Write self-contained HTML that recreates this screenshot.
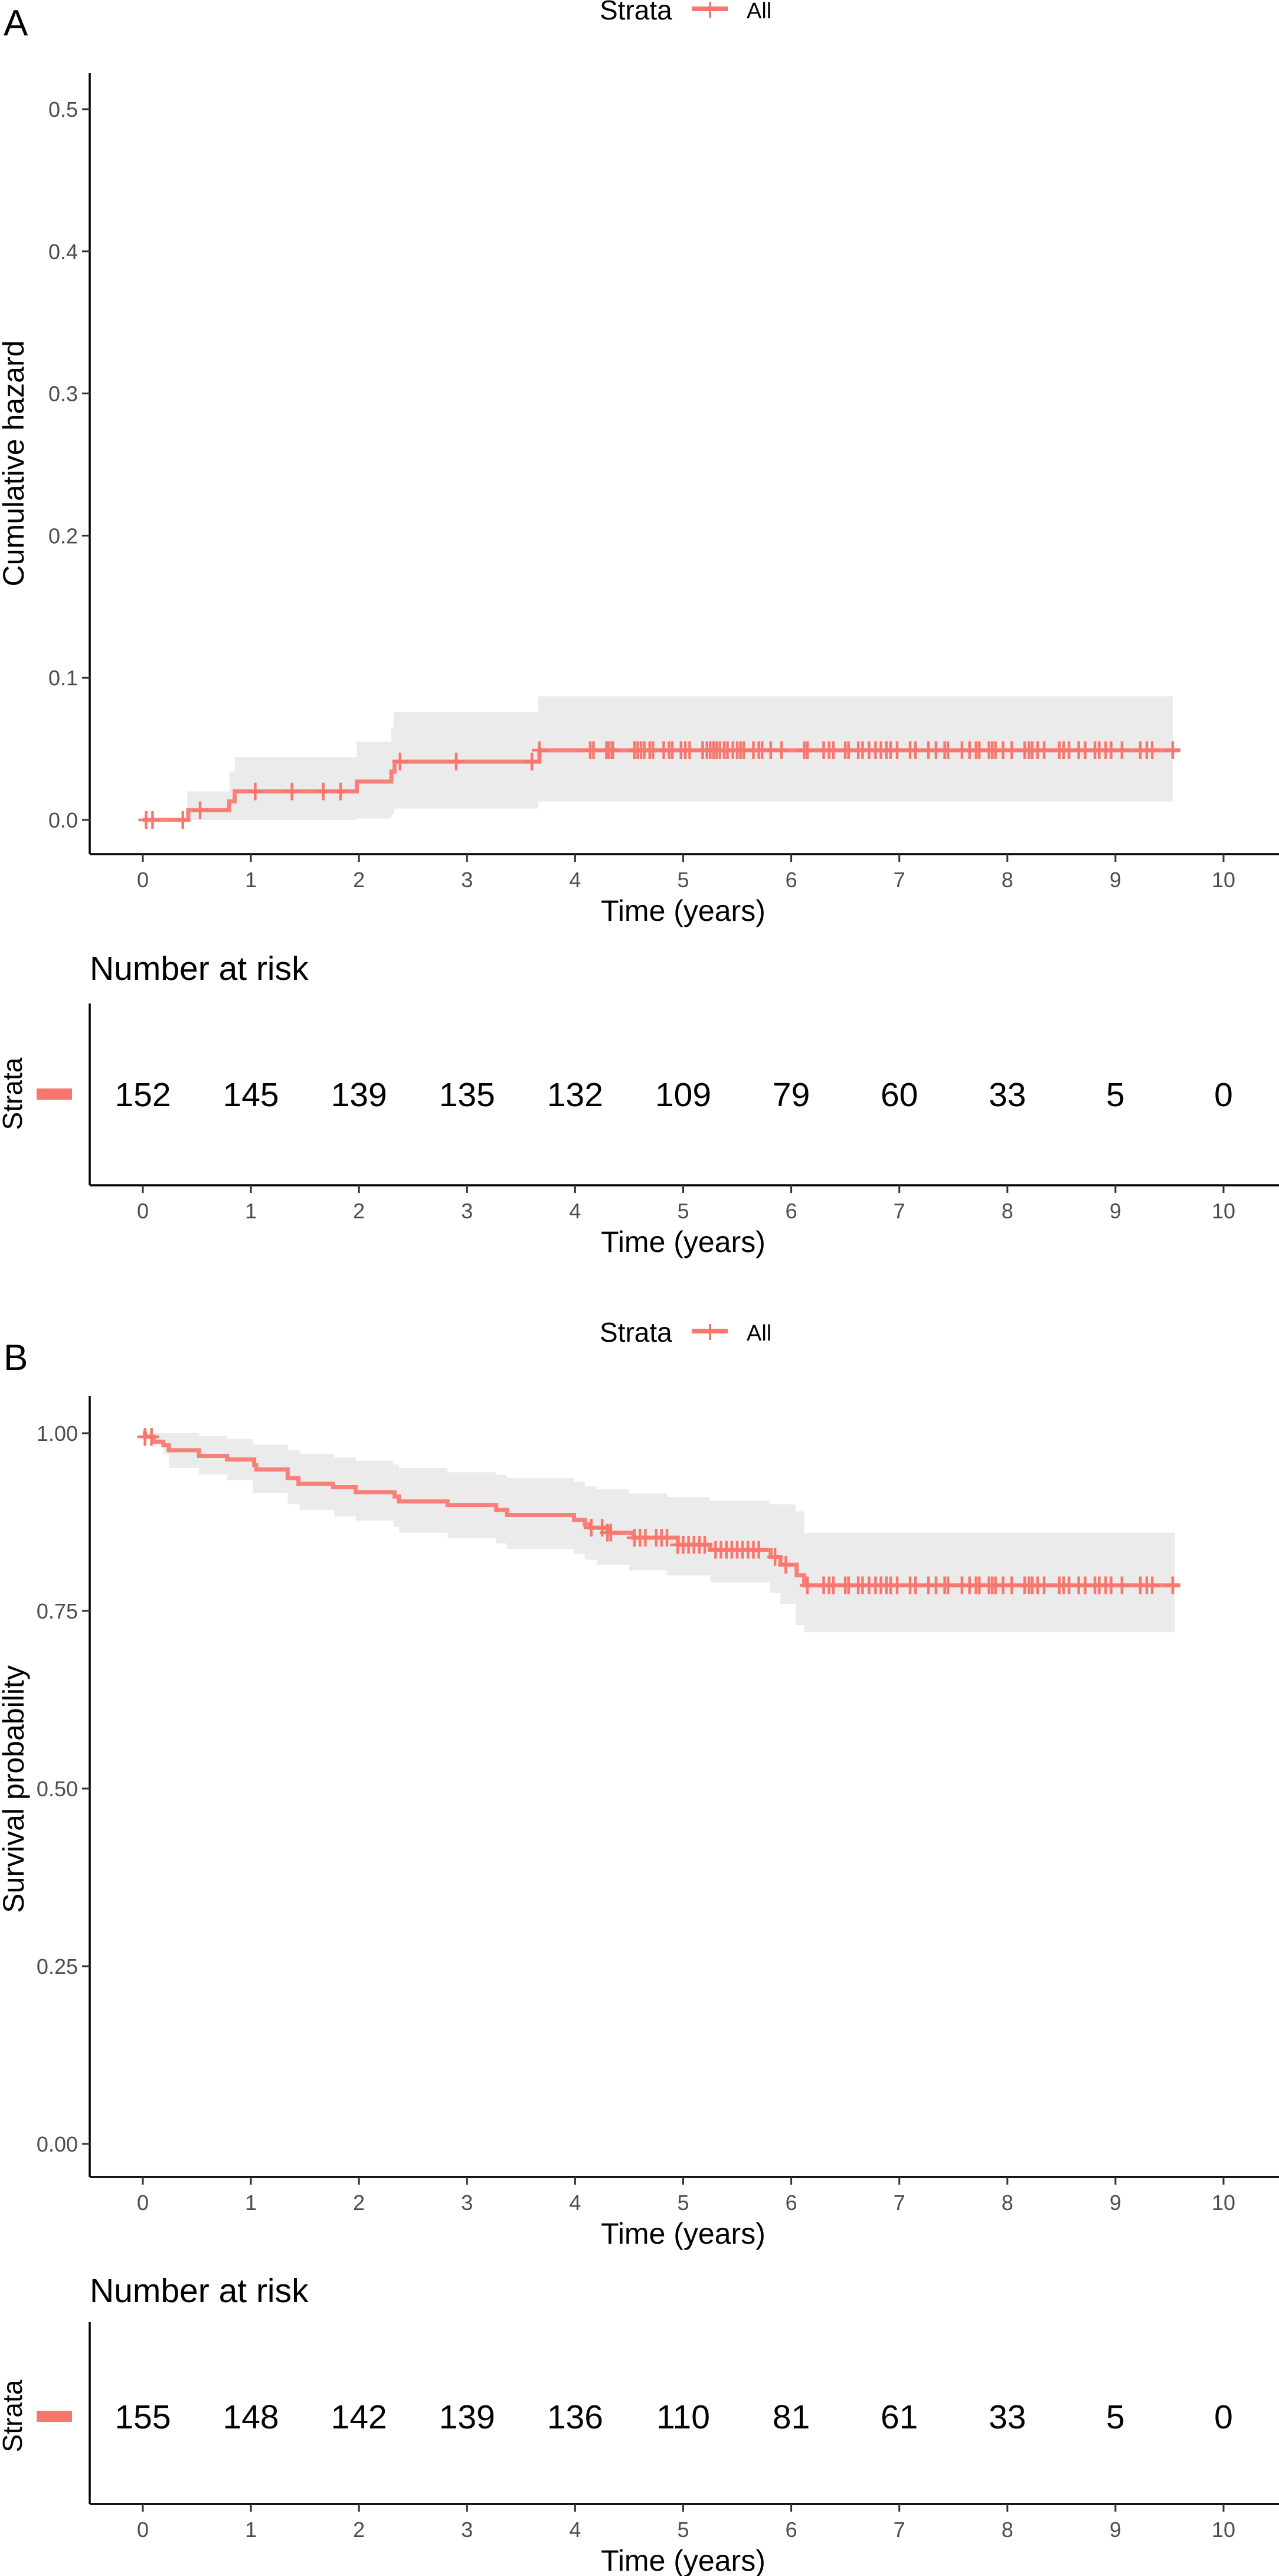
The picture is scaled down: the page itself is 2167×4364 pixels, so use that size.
<!DOCTYPE html>
<html><head><meta charset="utf-8">
<style>
html,body{margin:0;padding:0;background:#fff;}
svg{display:block;font-family:"Liberation Sans",sans-serif;}
</style></head>
<body>
<svg id="fig" width="2167" height="4364" viewBox="0 0 2167 4364" xmlns="http://www.w3.org/2000/svg"></svg>
<script>
// ---- data ----
const xTicks = [0,1,2,3,4,5,6,7,8,9,10];
// Panel A: cumulative hazard step function
const hazTimes = [0,0.42,0.80,0.85,1.98,2.30,2.33,3.67];
const hazVals  = [0,0.0068,0.013,0.020,0.027,0.034,0.041,0.049];
const hazEnd = 9.6;
const hazBandTimes = [0.41,0.80,0.85,1.98,2.30,2.32,3.66];
const hazUpper = [0.020,0.034,0.044,0.055,0.065,0.076,0.087];
const hazLower = [0,0,0,0.001,0.004,0.008,0.013];
const hazBandEnd = 9.53;
const hazYTicks = [0,0.1,0.2,0.3,0.4,0.5];
const hazYLabels = ["0.0","0.1","0.2","0.3","0.4","0.5"];
const lateCensor = [4.14,4.17,4.29,4.31,4.34,4.35,4.55,4.58,4.61,4.64,4.69,4.72,4.82,4.87,4.90,4.98,5.02,5.06,5.18,5.22,5.25,5.28,5.31,5.34,5.38,5.41,5.46,5.50,5.53,5.56,5.65,5.70,5.73,5.81,5.91,6.12,6.15,6.30,6.35,6.39,6.50,6.53,6.62,6.66,6.72,6.78,6.83,6.88,6.92,6.98,7.10,7.15,7.27,7.34,7.42,7.45,7.58,7.65,7.71,7.74,7.83,7.86,7.89,7.96,8.04,8.16,8.20,8.23,8.28,8.34,8.48,8.52,8.57,8.66,8.72,8.81,8.85,8.91,8.96,9.06,9.23,9.29,9.34,9.53];
const hazCensorEarly = [0.03,0.09,0.37,0.53,1.04,1.38,1.67,1.83,2.38,2.90,3.60,3.67];
const riskA = [152,145,139,135,132,109,79,60,33,5,0];
// Panel B: survival
const survTimes = [0,0.02,0.10,0.19,0.24,0.52,0.78,1.03,1.05,1.34,1.44,1.76,1.97,2.33,2.37,2.82,3.27,3.37,3.99,4.09,4.14,4.30,4.54,4.95,5.25,5.81,5.90,6.05,6.12];
const survVals  = [1.0,0.995,0.988,0.983,0.976,0.968,0.963,0.955,0.949,0.937,0.929,0.924,0.917,0.911,0.904,0.899,0.892,0.885,0.878,0.872,0.867,0.860,0.853,0.843,0.836,0.826,0.815,0.800,0.786];
const survEnd = 9.6;
const survBandTimes = [0,0.10,0.19,0.24,0.52,0.78,1.02,1.34,1.45,1.77,1.97,2.32,2.37,2.82,3.27,3.37,3.99,4.09,4.20,4.50,4.85,5.25,5.80,5.90,6.04,6.12];
const survUpper = [1.0,1.0,1.0,1.0,0.996,0.992,0.984,0.976,0.971,0.966,0.961,0.956,0.951,0.945,0.941,0.937,0.932,0.926,0.921,0.915,0.910,0.905,0.900,0.900,0.890,0.860];
const survLower = [0.994,0.984,0.971,0.951,0.942,0.934,0.916,0.900,0.892,0.883,0.877,0.868,0.860,0.852,0.845,0.837,0.830,0.822,0.815,0.807,0.800,0.790,0.775,0.760,0.730,0.720];
const survBandEnd = 9.55;
const survYTicks = [0,0.25,0.5,0.75,1.0];
const survYLabels = ["0.00","0.25","0.50","0.75","1.00"];
const survCensorEarly = [0.02,0.08,4.15,4.25,4.30,4.33,4.55,4.60,4.65,4.75,4.80,4.85,4.95,5.00,5.05,5.10,5.15,5.20,5.30,5.35,5.40,5.45,5.50,5.55,5.60,5.65,5.70,5.85,5.95];
const riskB = [155,148,142,139,136,110,81,61,33,5,0];

// ---- drawing ----
const NS="http://www.w3.org/2000/svg";
const svg=document.getElementById('fig');
const RED="#F8766D";
function mk(tag,attrs,parent){const e=document.createElementNS(NS,tag);for(const k in attrs)e.setAttribute(k,attrs[k]);(parent||svg).appendChild(e);return e;}
function txt(s,x,y,size,anchor,fill,parent,extra){const t=mk('text',Object.assign({x:x,y:y,'font-size':size,'text-anchor':anchor||'start',fill:fill||'#000'},extra||{}),parent);t.textContent=s;return t;}
const X0=242, XS=183.1, AXL=152;
const xs=t=>X0+t*XS;
function stepPath(times,vals,end,ys){let d='';for(let i=0;i<times.length;i++){const x=xs(times[i]),y=ys(vals[i]);if(i===0)d+='M'+x.toFixed(1)+' '+y.toFixed(1);else d+='H'+x.toFixed(1)+'V'+y.toFixed(1);}d+='H'+xs(end).toFixed(1);return d;}
function bandPath(times,up,lo,end,ys){let top='',bot=[];for(let i=0;i<times.length;i++){const x1=xs(times[i]),x2=xs(i<times.length-1?times[i+1]:end);top+=(i?'L':'M')+x1.toFixed(1)+' '+ys(up[i]).toFixed(1)+'L'+x2.toFixed(1)+' '+ys(up[i]).toFixed(1);bot.unshift('L'+x2.toFixed(1)+' '+ys(lo[i]).toFixed(1)+'L'+x1.toFixed(1)+' '+ys(lo[i]).toFixed(1));}return top+bot.join('')+'Z';}
function stepVal(times,vals,t){let v=vals[0];for(let i=0;i<times.length;i++){if(times[i]<=t)v=vals[i];}return v;}
function xAxis(g,yAxis,name){
  mk('line',{x1:AXL,y1:yAxis,x2:2167,y2:yAxis,stroke:'#000','stroke-width':3.5},g);
  xTicks.forEach(t=>{
    const tk=mk('line',{x1:xs(t),y1:yAxis,x2:xs(t),y2:yAxis+13,stroke:'#333','stroke-width':3},g);
    
    
    const l=txt(String(t),xs(t),yAxis+56,36,'middle','#4d4d4d',g);
    
    
  });
  const tt=txt('Time (years)',xs(5),yAxis+113,50,'middle','#000',g);
  
  
}
function legend(g,y){
  txt('Strata',1016,y+33,46,'start','#000',g);
  mk('line',{x1:1172,y1:y+15,x2:1233,y2:y+15,stroke:RED,'stroke-width':8},g);
  mk('line',{x1:1203,y1:y+3,x2:1203,y2:y+30,stroke:RED,'stroke-width':4},g);
  txt('All',1265,y+31,38,'start','#000',g);
}
function censor(g,ts,times,vals,ys){
  ts.forEach(t=>{const x=xs(t),y=ys(stepVal(times,vals,t));
    const c=mk('path',{d:`M${x-13} ${y}H${x+13}M${x} ${y-15}V${y+15}`,stroke:RED,'stroke-width':4.5,fill:'none'},g);
    
    
  });
}
function riskTable(g,top,axisY,nums,rectY,title){
  txt('Number at risk',152,top,57,'start','#000',g);
  mk('line',{x1:AXL,y1:axisY-308,x2:AXL,y2:axisY,stroke:'#000','stroke-width':3.5},g);
  const rowY=rectY+9;
  nums.forEach((n,i)=>{const t=txt(String(n),xs(xTicks[i]),rowY+21,57,'middle','#000',g);
    
    });
  mk('rect',{x:62,y:rectY,width:60,height:19,fill:RED},g);
  txt('Strata',0,0,46,'middle','#000',g,{transform:`translate(37 ${rowY}) rotate(-90)`});
  xAxis(g,axisY,title);
}

// Panel A
const gA=mk('g',{});
txt('A',6,60,62,'start','#000',gA);
legend(mk('g',{},gA),0);
const ysA=v=>1389-v*2408;
mk('path',{d:bandPath(hazBandTimes,hazUpper,hazLower,hazBandEnd,ysA),fill:'#EBEBEB',},gA);
mk('path',{d:stepPath(hazTimes,hazVals,hazEnd,ysA),fill:'none',stroke:RED,'stroke-width':7,opacity:0.9,},gA);
censor(gA,hazCensorEarly.concat(lateCensor),hazTimes,hazVals,ysA);
mk('line',{x1:AXL,y1:124,x2:AXL,y2:1447,stroke:'#000','stroke-width':3.5,},gA);
hazYTicks.forEach((v,i)=>{mk('line',{x1:AXL-13,y1:ysA(v),x2:AXL,y2:ysA(v),stroke:'#333','stroke-width':3},gA);
  const l=txt(hazYLabels[i],AXL-20,ysA(v)+13,36,'end','#4d4d4d',gA);
  
  });
txt('Cumulative hazard',0,0,50,'middle','#000',gA,{transform:'translate(40 785) rotate(-90)'});
xAxis(gA,1447,'x-axis-title-a');
riskTable(mk('g',{}),1660,2008,riskA,1844,'risk-x-axis-title-a');

// Panel B
const gB=mk('g',{});
txt('B',6,2321,62,'start','#000',gB);
legend(mk('g',{},gB),2240);
const ysB=v=>3632-v*1204;
mk('path',{d:bandPath(survBandTimes,survUpper,survLower,survBandEnd,ysB),fill:'#EBEBEB',},gB);
mk('path',{d:stepPath(survTimes,survVals,survEnd,ysB),fill:'none',stroke:RED,'stroke-width':7,opacity:0.9,},gB);
censor(gB,survCensorEarly.concat(lateCensor.filter(t=>t>6.12)),survTimes,survVals,ysB);
mk('line',{x1:AXL,y1:2365,x2:AXL,y2:3688,stroke:'#000','stroke-width':3.5,},gB);
survYTicks.forEach((v,i)=>{mk('line',{x1:AXL-13,y1:ysB(v),x2:AXL,y2:ysB(v),stroke:'#333','stroke-width':3},gB);
  const l=txt(survYLabels[i],AXL-20,ysB(v)+13,36,'end','#4d4d4d',gB);
  
  });
txt('Survival probability',0,0,50,'middle','#000',gB,{transform:'translate(40 3031) rotate(-90)'});
xAxis(gB,3688,'x-axis-title-b');
riskTable(mk('g',{}),3900,4242,riskB,4084,'risk-x-axis-title-b');
</script>
</body></html>
